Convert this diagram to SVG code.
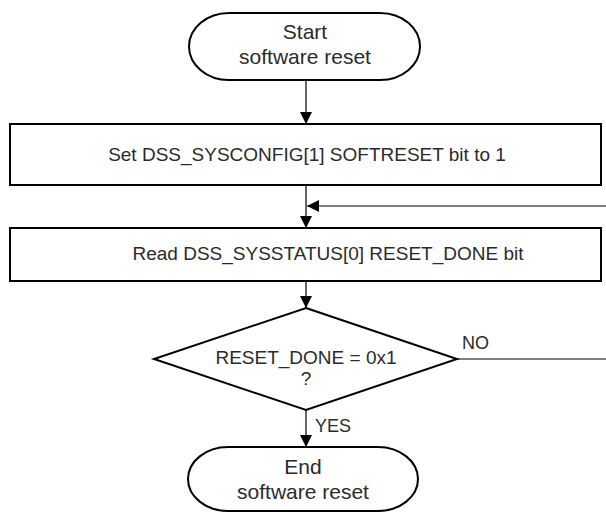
<svg xmlns="http://www.w3.org/2000/svg" width="606" height="512" viewBox="0 0 606 512">
<style>
  .shape { fill: #fff; stroke: #000; stroke-width: 2; }
  .conn { fill: none; stroke: #000; stroke-width: 1.2; }
  text { font-family: "Liberation Sans", Arial, sans-serif; fill: #2b2b2b; text-anchor: middle; }
  .t19 { font-size: 19px; }
  .t21 { font-size: 21px; }
  .lbl { font-size: 18px; text-anchor: start; }
</style>
<defs>
  <marker id="arr" viewBox="0 0 12 12" refX="12" refY="6" markerWidth="12" markerHeight="12" markerUnits="userSpaceOnUse" orient="auto">
    <path d="M0,0 L12,6 L0,12 Z" fill="#000"/>
  </marker>
</defs>
<rect width="606" height="512" fill="#fff"/>
<g id="connectors">
  <line class="conn" x1="306" y1="80" x2="306" y2="124" marker-end="url(#arr)"/>
  <line class="conn" x1="306" y1="185" x2="306" y2="228" marker-end="url(#arr)"/>
  <line class="conn" x1="606" y1="206" x2="307" y2="206" marker-end="url(#arr)"/>
  <line class="conn" x1="306" y1="281" x2="306" y2="308" marker-end="url(#arr)"/>
  <line class="conn" x1="306" y1="410" x2="306" y2="447" marker-end="url(#arr)"/>
  <line class="conn" x1="457" y1="359" x2="606" y2="359"/>
  <text class="lbl" x="462" y="349">NO</text>
  <text class="lbl" x="315" y="432">YES</text>
</g>
<g id="start">
  <rect class="shape" x="189" y="13" width="231" height="67" rx="40" ry="33.5"/>
  <text class="t21" x="305" y="39">Start</text>
  <text class="t21" x="305" y="64">software reset</text>
</g>
<g id="set">
  <rect class="shape" x="10" y="124" width="591" height="61"/>
  <text class="t19" x="307" y="161">Set DSS_SYSCONFIG[1] SOFTRESET bit to 1</text>
</g>
<g id="read">
  <rect class="shape" x="10" y="228" width="591" height="53"/>
  <text class="t19" x="328" y="260">Read DSS_SYSSTATUS[0] RESET_DONE bit</text>
</g>
<g id="check">
  <polygon class="shape" points="306,308 457,359 306,410 154,359"/>
  <text class="t19" x="306" y="364">RESET_DONE = 0x1</text>
  <text class="t19" x="306" y="385">?</text>
</g>
<g id="end">
  <rect class="shape" x="188" y="447" width="230" height="64" rx="40" ry="32"/>
  <text class="t21" x="303" y="474">End</text>
  <text class="t21" x="303" y="499">software reset</text>
</g>
</svg>
